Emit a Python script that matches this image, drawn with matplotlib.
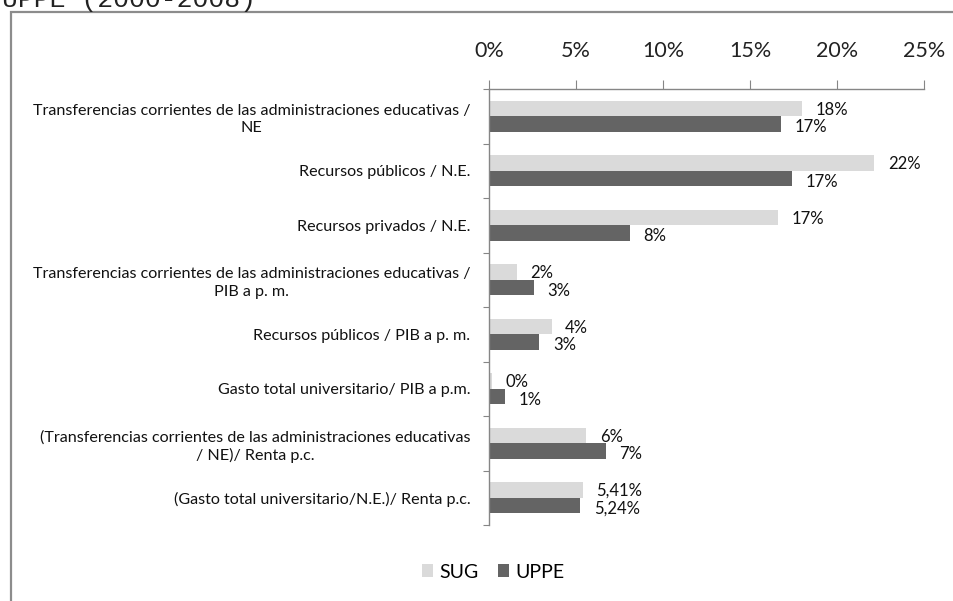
import numpy as np
import matplotlib
matplotlib.use("Agg")
import matplotlib.pyplot as plt
from matplotlib.patches import Rectangle

# datos
categorias = [
    "Transferencias corrientes de las administraciones educativas /\nNE",
    "Recursos públicos / N.E.",
    "Recursos privados / N.E.",
    "Transferencias corrientes de las administraciones educativas /\nPIB a p. m.",
    "Recursos públicos / PIB a p. m.",
    "Gasto total universitario/ PIB a p.m.",
    "(Transferencias corrientes de las administraciones educativas\n/ NE)/ Renta p.c.",
    "(Gasto total universitario/N.E.)/ Renta p.c.",
]
sug = [18.0, 22.15, 16.6, 1.6, 3.6, 0.2, 5.6, 5.41]
uppe = [16.8, 17.4, 8.1, 2.6, 2.9, 0.9, 6.7, 5.24]
decimales = [0, 0, 0, 0, 0, 0, 0, 2]
xticks = [0, 5, 10, 15, 20, 25]

def etiqueta(v, d):
    return ("{:.%df}%%" % d).format(v).replace(".", ",")

plt.rcParams['font.family'] = ['Lato', 'DejaVu Sans']

fig = plt.figure(figsize=(9.54, 6.01), dpi=100)
ax = fig.add_axes([489/954, 1-525/601, 435/954, 436/601])

y = np.arange(len(categorias))
h = 0.285
gris_claro = '#dadada'
gris_osc = '#646464'
b1 = ax.barh(y - h/2, sug, height=h, color=gris_claro, label='SUG')
b2 = ax.barh(y + h/2, uppe, height=h, color=gris_osc, label='UPPE')

for i in range(len(categorias)):
    ax.annotate(etiqueta(sug[i], decimales[i]), (sug[i], y[i] - h/2), xytext=(9.7, -0.8),
                textcoords='offset points', va='center', ha='left', fontsize=12, color='#111111')
    ax.annotate(etiqueta(uppe[i], decimales[i]), (uppe[i], y[i] + h/2), xytext=(9.7, -2.5),
                textcoords='offset points', va='center', ha='left', fontsize=12, color='#111111')

ax.set_xlim(0, 25)
ax.set_ylim(len(categorias) - 0.5, -0.5)
ax.xaxis.tick_top()
ax.set_xticks(xticks)
ax.set_xticklabels(["%d%%" % t for t in xticks], fontsize=15.5, color='#222222')
ax.tick_params(axis='x', direction='out', length=6.5, color='#868686', pad=14)

# ticks mayores en los limites de categoria, etiquetas en los menores
ax.set_yticks(np.arange(len(categorias) + 1) - 0.5)
ax.set_yticklabels([])
ax.tick_params(axis='y', which='major', length=4, color='#868686')
ax.set_yticks(y, minor=True)
ax.set_yticklabels(categorias, minor=True, fontsize=11.6, color='#111111')
ax.tick_params(axis='y', which='minor', length=0, pad=13.5)
for lbl in ax.get_yticklabels(minor=True):
    lbl.set_multialignment('center')
    lbl.set_linespacing(1.3)

for s in ['right', 'bottom']:
    ax.spines[s].set_visible(False)
for s in ['left', 'top']:
    ax.spines[s].set_color('#868686')
    ax.spines[s].set_linewidth(1.0)

leg = fig.legend(handles=[b1, b2], labels=['SUG', 'UPPE'], loc='center', bbox_to_anchor=(493/954, 1-572/601),
                 ncol=2, frameon=False, fontsize=14, handlelength=0.6, handleheight=0.6,
                 handletextpad=0.3, columnspacing=1.0)

# marco exterior (cortado a la derecha y abajo)
fig.patches.append(Rectangle((11/954, -0.1), 1.2, 1.1 - 12/601, transform=fig.transFigure,
                             fill=False, edgecolor='#8c8c8c', linewidth=1.6))

# titulo cortado en la parte superior
fig.text(2/954, 1 - 7/601, "UPPE (2000-2008)", family='Liberation Mono', fontsize=19,
         va='baseline', ha='left', color='#222222')

fig.savefig("out.png", dpi=100)
